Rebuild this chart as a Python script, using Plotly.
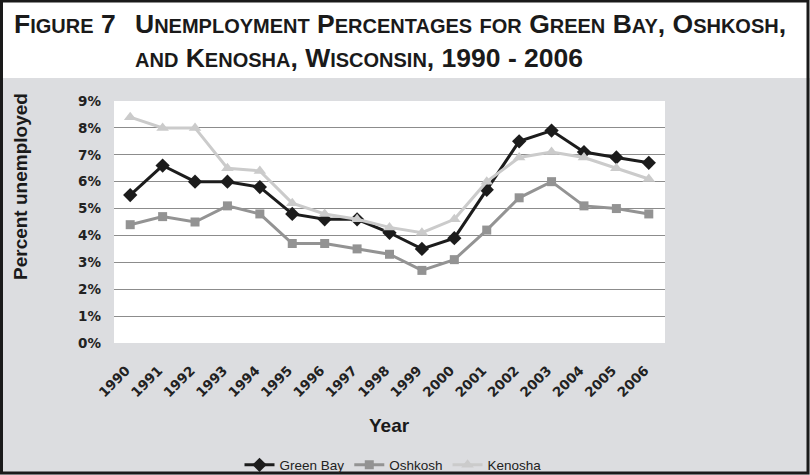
import re
import plotly.graph_objects as go

# Annual unemployment rates (%)
years = [str(y) for y in range(1990, 2007)]
green_bay = [5.5, 6.6, 6.0, 6.0, 5.8, 4.8, 4.6, 4.6, 4.1, 3.5, 3.9, 5.7, 7.5, 7.9, 7.1, 6.9, 6.7]
oshkosh = [4.4, 4.7, 4.5, 5.1, 4.8, 3.7, 3.7, 3.5, 3.3, 2.7, 3.1, 4.2, 5.4, 6.0, 5.1, 5.0, 4.8]
kenosha = [8.4, 8.0, 8.0, 6.5, 6.4, 5.2, 4.8, 4.6, 4.3, 4.1, 4.6, 6.0, 6.9, 7.1, 6.9, 6.5, 6.1]

y_ticks = list(range(0, 10))
y_tick_labels = [f"{v}%" for v in y_ticks]

title_label = "Figure 7"
title_lines = ["Unemployment Percentages for Green Bay, Oshkosh,",
               "and Kenosha, Wisconsin, 1990 - 2006"]

W, H = 810, 475
L, R, T, B = 114, 145, 101, 132
PW, PH = W - L - R, H - T - B


def px_x(px):
    return (px - L) / PW


def px_y(py):
    return (H - B - py) / PH


BIG, SMALL = 26.5, 20


def small_caps(text):
    """Render lowercase runs as reduced-size capitals."""
    out = []
    for chunk in re.findall(r"[a-z]+|[^a-z]+", text):
        if chunk.islower():
            out.append(f"<span style='font-size:{SMALL}px'>{chunk.upper()}</span>")
        else:
            out.append(chunk)
    return "".join(out)


BODY = "Liberation Sans, Arial, sans-serif"
TICK = "DejaVu Sans, Verdana, sans-serif"
TITLE_FONT = dict(family=BODY, size=BIG, color="#1a1a1a", weight="bold")

fig = go.Figure()
series = [
    ("Green Bay", green_bay, "#1c1c1c", "diamond", 11),
    ("Oshkosh", oshkosh, "#939393", "square", 9),
    ("Kenosha", kenosha, "#cbcbcb", "triangle-up", 11),
]
for name, vals, color, sym, size in series:
    fig.add_trace(go.Scatter(
        x=years, y=vals, name=name, mode="lines+markers",
        line=dict(color=color, width=3),
        marker=dict(symbol=sym, size=size, color=color),
    ))

fig.update_layout(
    width=W, height=H,
    margin=dict(l=L, r=R, t=T, b=B, autoexpand=False),
    paper_bgcolor="#dcdde0",
    plot_bgcolor="#ffffff",
    showlegend=True,
    legend=dict(orientation="h", x=px_x(393), xanchor="center",
                y=px_y(465), yanchor="middle",
                font=dict(family=BODY, size=13.5, color="#222222"),
                bgcolor="rgba(0,0,0,0)", itemwidth=30, tracegroupgap=0),
    xaxis=dict(type="category", range=[-0.5, 16.5], showgrid=False,
               showline=False, zeroline=False, tickangle=-45, automargin=False,
               tickfont=dict(family=TICK, size=13.5, color="#222222", weight="bold"),
               ticklabelstandoff=16, ticklabelshift=-4),
    yaxis=dict(range=[0, 9], tickvals=y_ticks, ticktext=y_tick_labels,
               showgrid=True, gridcolor="#8c8c8c", gridwidth=1,
               showline=False, zeroline=False, automargin=False,
               tickfont=dict(family=TICK, size=13.5, color="#222222", weight="bold"),
               ticklabelstandoff=12),
    shapes=[
        # white title band
        dict(type="rect", xref="paper", yref="paper",
             x0=px_x(0), x1=px_x(W), y0=px_y(78), y1=px_y(0),
             fillcolor="#ffffff", line=dict(width=0), layer="below"),
        # outer frame
        dict(type="rect", xref="paper", yref="paper",
             x0=px_x(1.5), x1=px_x(W - 2), y0=px_y(H - 2), y1=px_y(1),
             fillcolor="rgba(0,0,0,0)", line=dict(color="#1a1a1a", width=3)),
    ],
    annotations=[
        dict(text=small_caps(title_label), xref="paper", yref="paper",
             x=px_x(12), y=px_y(24), xanchor="left", yanchor="middle",
             showarrow=False, font=TITLE_FONT),
        dict(text=small_caps(title_lines[0]), xref="paper", yref="paper",
             x=px_x(133), y=px_y(24), xanchor="left", yanchor="middle",
             showarrow=False, font=TITLE_FONT),
        dict(text=small_caps(title_lines[1]), xref="paper", yref="paper",
             x=px_x(133), y=px_y(58), xanchor="left", yanchor="middle",
             showarrow=False, font=TITLE_FONT),
        dict(text="Percent unemployed", xref="paper", yref="paper",
             x=px_x(20), y=px_y(187), xanchor="center", yanchor="middle",
             textangle=-90, showarrow=False,
             font=dict(family=BODY, size=19, color="#1a1a1a", weight="bold")),
        dict(text="Year", xref="paper", yref="paper",
             x=px_x(389), y=px_y(425), xanchor="center", yanchor="middle",
             showarrow=False,
             font=dict(family=BODY, size=19, color="#1a1a1a", weight="bold")),
    ],
)

fig.write_html("out.html")
